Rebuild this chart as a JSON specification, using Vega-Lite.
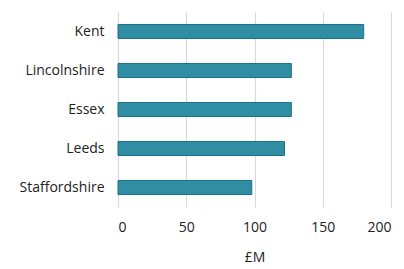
{
  "$schema": "https://vega.github.io/schema/vega-lite/v6.json",
  "width": 273,
  "height": 195,
  "autosize": {"type": "none"},
  "padding": {"left": 118, "top": 12, "right": 13, "bottom": 62},
  "background": "white",
  "data": {"values": [
    {"region": "Kent", "value": 180},
    {"region": "Lincolnshire", "value": 127},
    {"region": "Essex", "value": 127},
    {"region": "Leeds", "value": 122},
    {"region": "Staffordshire", "value": 98}
  ]},
  "mark": {"type": "bar", "color": "#2F8EA4", "stroke": "#1D7186", "strokeWidth": 1},
  "encoding": {
    "y": {"field": "region", "type": "nominal", "sort": null,
      "scale": {"paddingInner": 0.64, "paddingOuter": 0.32},
      "axis": {"title": null, "domain": false, "ticks": false, "labelPadding": 14, "labelFont": "Open Sans", "labelFontSize": 14, "labelColor": "#222222"}},
    "x": {"field": "value", "type": "quantitative",
      "scale": {"domain": [0, 200], "nice": false},
      "axis": {"title": "£M", "values": [0, 50, 100, 150, 200], "domain": false, "ticks": false, "grid": true, "gridColor": "#d9d9d9", "gridWidth": 1.2,
        "labelPadding": 13, "labelFont": "Open Sans", "labelFontSize": 14, "labelColor": "#222222",
        "titleFont": "Open Sans", "titleFontSize": 14, "titleFontWeight": "normal", "titleColor": "#222222", "titlePadding": 16}}
  },
  "config": {"view": {"stroke": null}}
}
